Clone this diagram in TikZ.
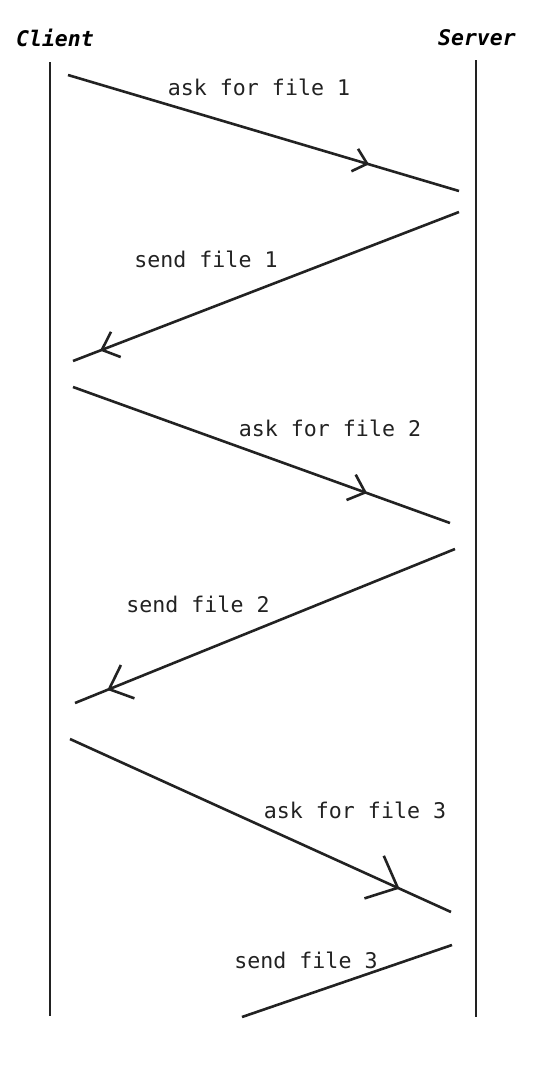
\documentclass[tikz,border=0pt]{standalone}
\usepackage{fontspec}
\setmonofont{DejaVu Sans Mono}
\usetikzlibrary{arrows.meta,decorations.markings}
\definecolor{ink}{HTML}{222222}

\begin{document}
\begin{tikzpicture}[x=1pt, y=-1pt,
  font=\ttfamily\fontsize{21.6}{25}\selectfont,
  life/.style={line width=2.8pt, draw=ink},
  msg/.style 2 args={line width=2.6pt, draw=ink, postaction={decorate},
    decoration={markings, mark=at position #1 with
      {\arrow{Straight Barb[length=#2pt, width=1.8*#2pt, line width=2.6pt]}}}},
  hdr/.style={font=\ttfamily\bfseries\itshape\fontsize{21.5}{25}\selectfont, inner sep=0pt},
  lab/.style={inner sep=0pt, text=ink}]
\useasboundingbox (0,0) rectangle (540,1080);
% lifelines
\node[hdr] (client) at (55,38) {Client};
\node[hdr] (server) at (477,38) {Server};
\coordinate (ctop) at (50,62);   \coordinate (cbot) at (50,1016);
\coordinate (stop) at (476,60);  \coordinate (sbot) at (476,1017);
\draw[life] (ctop) -- (cbot);
\draw[life] (stop) -- (sbot);
% message end points
\coordinate (a1) at (68,75);   \coordinate (b1) at (459,191);
\coordinate (a2) at (459,212); \coordinate (b2) at (73,361);
\coordinate (a3) at (73,387);  \coordinate (b3) at (450,523);
\coordinate (a4) at (455,549); \coordinate (b4) at (75,703);
\coordinate (a5) at (70,739);  \coordinate (b5) at (451,912);
\coordinate (a6) at (452,945); \coordinate (b6) at (242,1017);
\draw[msg={0.77}{13}] (a1) -- (b1);
\draw[msg={0.93}{15}] (a2) -- (b2);
\draw[msg={0.78}{15}] (a3) -- (b3);
\draw[msg={0.915}{20}] (a4) -- (b4);
\draw[msg={0.865}{26}] (a5) -- (b5);
\draw[life, line width=2.6pt] (a6) -- (b6);
% labels
\node[lab] (l1) at (259,87)  {ask for file 1};
\node[lab] (l2) at (206,259) {send file 1};
\node[lab] (l3) at (330,428) {ask for file 2};
\node[lab] (l4) at (198,604) {send file 2};
\node[lab] (l5) at (355,810) {ask for file 3};
\node[lab] (l6) at (306,960) {send file 3};
\end{tikzpicture}
\end{document}
